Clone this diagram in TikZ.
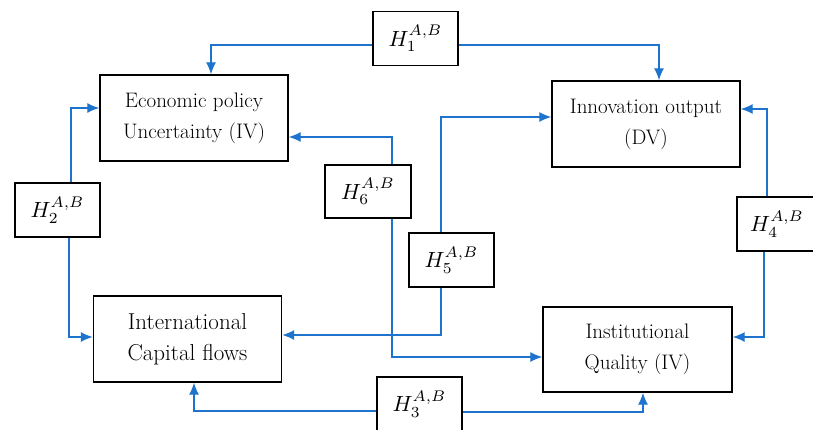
\documentclass[tikz,border=0pt]{standalone}
\usepackage{fontspec}
\usepackage{graphicx}
\usepackage{tikz}
\usetikzlibrary{positioning,arrows.meta}
\definecolor{linkblue}{RGB}{30,115,205}
\newcommand{\hlabel}[1]{\scalebox{2.2}{$H_{#1}^{A,B}$}}

\begin{document}
\begin{tikzpicture}[x=1pt,y=-1pt,
  var/.style={draw,line width=1.4pt,align=center,inner sep=0pt,minimum width=188pt,minimum height=86pt,font=\fontsize{21}{31}\selectfont},
  hyp/.style={draw,line width=1.3pt,inner sep=0pt,minimum width=85pt,minimum height=54pt},
  link/.style={draw=linkblue,line width=1.3pt,-{Latex[length=12pt,width=10pt]}}]
				\useasboundingbox (0,0) rectangle (813,429);
				\clip (0,0) rectangle (813,429);
				% variables
				\node[var] (epu) at (194,118) {Economic policy\\Uncertainty (IV)};
				\node[var] (io) at (646,124) {Innovation output\\(DV)};
				\node[var,font=\fontsize{23}{31}\selectfont] (icf) at (187.5,339) {International\\Capital flows};
				\node[var,minimum width=189pt,minimum height=85pt] (iq) at (637.5,349.5) {Institutional\\Quality (IV)};
				
				% hypotheses
				\node[hyp] (h1) at (415.5,38.5) {\hlabel{1}};
				\node[hyp] (h2) at (57.5,210) {\hlabel{2}};
				\node[hyp] (h3) at (419.5,404) {\hlabel{3}};
				\node[hyp,minimum width=80pt] (h4) at (777,224) {\hlabel{4}};
				\node[hyp] (h5) at (451.5,260) {\hlabel{5}};
				\node[hyp,minimum width=86pt,minimum height=53pt] (h6) at (368,191.5) {\hlabel{6}};
				
				\draw[link] ([yshift=-6.5pt]h1.west) -| ([xshift=17pt]epu.north);
				\draw[link] ([yshift=-6.5pt]h1.east) -| ([xshift=13pt]io.north);
				\draw[link] ([xshift=13.5pt]h2.north) |- ([yshift=10pt]epu.west);
				\draw[link] ([xshift=11.5pt]h2.south) |- ([yshift=2pt]icf.west);
				\draw[link] ([yshift=-7pt]h3.west) -| ([xshift=6.5pt]icf.south);
				\draw[link] ([yshift=-8pt]h3.east) -| ([xshift=5.5pt]iq.south);
				\draw[link] ([xshift=-10pt]h4.north) |- ([yshift=15pt]io.east);
				\draw[link] ([xshift=-13pt]h4.south) |- ([yshift=12.5pt]iq.east);
				\draw[link] ([xshift=-10.5pt]h5.north) |- ([yshift=7pt]io.west);
				\draw[link] ([xshift=-10.5pt]h5.south) |- ([yshift=4pt]icf.east);
				\draw[link] ([xshift=24pt]h6.north) |- ([yshift=-19pt]epu.east);
				\draw[link] ([xshift=24pt]h6.south) |- ([yshift=-7.5pt]iq.west);
\end{tikzpicture}
\end{document}
